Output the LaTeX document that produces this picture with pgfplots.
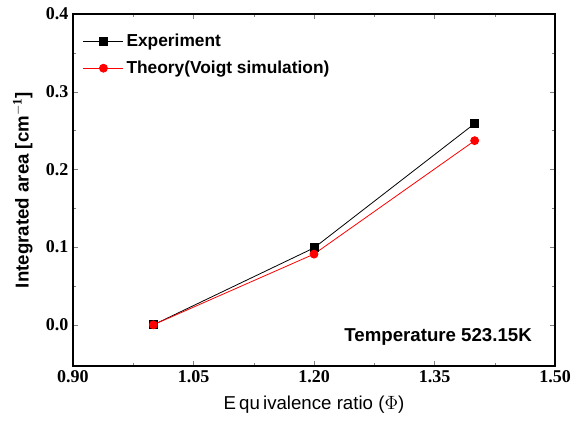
\documentclass[border=0pt]{standalone}
\usepackage{fontspec}
\setmainfont{Liberation Serif}
\newfontfamily\arial{Liberation Sans}
\usepackage{pgfplots}
\pgfplotsset{compat=1.18}
\begin{document}
\begin{tikzpicture}
\begin{axis}[
  scale only axis,
  width=361.5pt, height=264pt,
  xmin=0.9, xmax=1.5, ymin=-0.053, ymax=0.4,
  xtick={0.90,1.05,1.20,1.35,1.50},
  ytick={0,0.1,0.2,0.3,0.4},
  minor x tick num=1, minor y tick num=1,
  tick align=inside, tick pos=both,
  major tick length=4pt, minor tick length=2.5pt,
  /pgf/number format/assume math mode=true,
  xticklabel style={font=\fontsize{13.5}{15}\selectfont\bfseries, /pgf/number format/.cd, fixed, fixed zerofill, precision=2},
  yticklabel style={font=\fontsize{13.5}{15}\selectfont\bfseries, /pgf/number format/.cd, fixed, fixed zerofill, precision=1},
  xlabel={\arial\fontsize{14}{16}\selectfont E\,qu\,ivalence ratio ($\Phi$)},
  ylabel={\arial\bfseries\fontsize{14}{16}\selectfont Integrated area [cm$^{\mathbf{-1}}$]},
  xlabel style={yshift=-3pt},
  ylabel style={yshift=3pt},
  axis line style={line width=0.8pt},
  legend style={draw=none, fill=none, at={(0.012,0.958)}, anchor=north west, font=\arial\bfseries\fontsize{13}{15}\selectfont, row sep=5pt},
  legend cell align=left,
  legend image code/.code={\draw[#1] (0pt,0pt) -- (30pt,0pt); \draw[#1, only marks] plot coordinates {(15pt,0pt)};},
]
\addplot[black, line width=0.6pt, mark=square*, mark size=3pt] coordinates {(1.0,0.0) (1.2,0.099) (1.4,0.259)};
\addlegendentry{Experiment}
\addplot[red, line width=0.6pt, mark=*, mark size=3pt] coordinates {(1.0,0.0) (1.2,0.091) (1.4,0.237)};
\addlegendentry{Theory(Voigt simulation)}
\node[anchor=east, font=\arial\bfseries\fontsize{14}{16}\selectfont] at (axis cs:1.477,-0.0155) {Temperature 523.15K};
\end{axis}
\pgfresetboundingbox
\path (current axis.south west) ++(-54.75pt,-46.5pt) coordinate (bl);
\path (current axis.north east) ++(12.75pt,10.5pt) coordinate (tr);
\path[use as bounding box] (bl) rectangle (tr);
\end{tikzpicture}
\end{document}
